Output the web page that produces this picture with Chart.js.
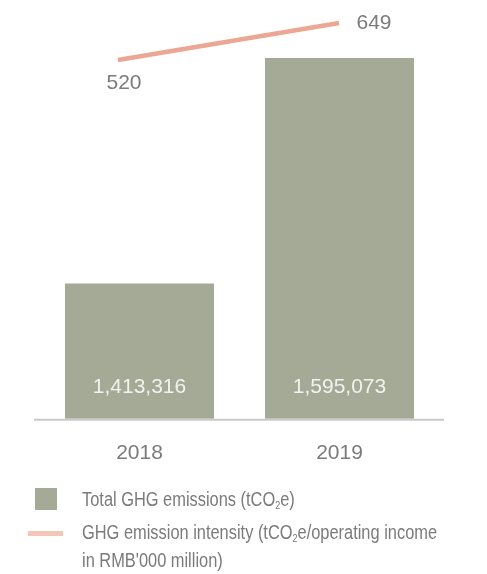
<!DOCTYPE html>
<html>
<head>
<meta charset="utf-8">
<script src="https://cdn.jsdelivr.net/npm/chart.js@4"></script>
<style>
  html, body { margin: 0; padding: 0; background: #fff; }
  #wrap { position: relative; width: 487px; height: 574px; overflow: hidden; }
  #chartBox { position: absolute; left: 0; top: 0; width: 487px; height: 488px; }
  .leg { position: absolute; font-family: "Liberation Sans", Arial, sans-serif; font-size: 20px; color: #7b7b7b; white-space: nowrap; transform: scaleX(0.82); transform-origin: left top; }
  .leg sub { font-size: 11px; vertical-align: -3px; line-height: 0; }
  .sw { position: absolute; }
</style>
</head>
<body>
<div id="wrap">
  <div id="chartBox"><canvas id="c"></canvas></div>
  <div class="sw" style="left:35px;top:488px;width:22px;height:22px;background:#a4aa95;"></div>
  <div class="sw" style="left:28px;top:531px;width:35px;height:5px;background:#f4c6b9;"></div>
  <div class="leg" style="left:82px;top:485px;line-height:28px;">Total GHG emissions (tCO<sub>2</sub>e)</div>
  <div class="leg" style="left:82px;top:518px;line-height:28px;">GHG emission intensity (tCO<sub>2</sub>e/operating income<br>in RMB'000 million)</div>
</div>
<script>
const categories = ["2018", "2019"];
const totalEmissions = [1413316, 1595073];
const emissionIntensity = [520, 649];

const labelPlugin = {
  id: 'valueLabels',
  afterDatasetsDraw(chart) {
    const ctx = chart.ctx;
    const area = chart.chartArea;
    ctx.save();
    ctx.font = '21px "Liberation Sans", Arial, sans-serif';
    ctx.textBaseline = 'middle';
    ctx.textAlign = 'center';
    // baseline
    ctx.strokeStyle = '#c9c9c9';
    ctx.lineWidth = 2;
    ctx.beginPath();
    ctx.moveTo(area.left - 5.5, area.bottom + 1);
    ctx.lineTo(area.right + 4.5, area.bottom + 1);
    ctx.stroke();
    // bar labels
    const barMeta = chart.getDatasetMeta(0);
    ctx.fillStyle = 'rgba(255,255,255,0.85)';
    barMeta.data.forEach((el, i) => {
      ctx.fillText(totalEmissions[i].toLocaleString('en-US'), el.x, area.bottom - 32);
    });
    // line labels
    const lineMeta = chart.getDatasetMeta(1);
    ctx.fillStyle = '#7b7b7b';
    lineMeta.data.forEach((el, i) => {
      const txt = String(emissionIntensity[i]);
      if (i === 0) ctx.fillText(txt, el.x + 6, el.y + 23);
      else ctx.fillText(txt, el.x + 35, el.y);
    });
    ctx.restore();
  }
};

new Chart(document.getElementById('c'), {
  data: {
    labels: categories,
    datasets: [
      {
        type: 'bar',
        label: 'Total GHG emissions (tCO2e)',
        data: totalEmissions,
        backgroundColor: '#a4aa95',
        borderWidth: 0,
        grouped: false,
        categoryPercentage: 1,
        barPercentage: 0.745,
        yAxisID: 'y',
        xAxisID: 'x',
        order: 2
      },
      {
        type: 'line',
        label: "GHG emission intensity (tCO2e/operating income in RMB'000 million)",
        data: emissionIntensity.map((v, i) => ({ x: i, y: v })),
        borderColor: '#eca794',
        borderWidth: 4.5,
        borderCapStyle: 'butt',
        pointRadius: 0,
        fill: false,
        tension: 0,
        yAxisID: 'y2',
        xAxisID: 'x2',
        order: 1
      }
    ]
  },
  options: {
    responsive: true,
    maintainAspectRatio: false,
    animation: false,
    layout: { padding: { left: 39.5, right: 47.5, top: 10, bottom: 0 } },
    plugins: { legend: { display: false }, tooltip: { enabled: false } },
    scales: {
      x: {
        type: 'category',
        offset: true,
        grid: { display: false, drawTicks: false },
        border: { display: false },
        ticks: { color: '#7b7b7b', font: { family: '"Liberation Sans", Arial, sans-serif', size: 21 }, padding: 22 }
      },
      x2: {
        type: 'linear',
        display: false,
        min: -0.3552,
        max: 1.4548
      },
      y: {
        display: false,
        min: 1304263,
        max: 1633845
      },
      y2: {
        display: false,
        min: -728.3,
        max: 694.3
      }
    }
  },
  plugins: [labelPlugin]
});
</script>
</body>
</html>
